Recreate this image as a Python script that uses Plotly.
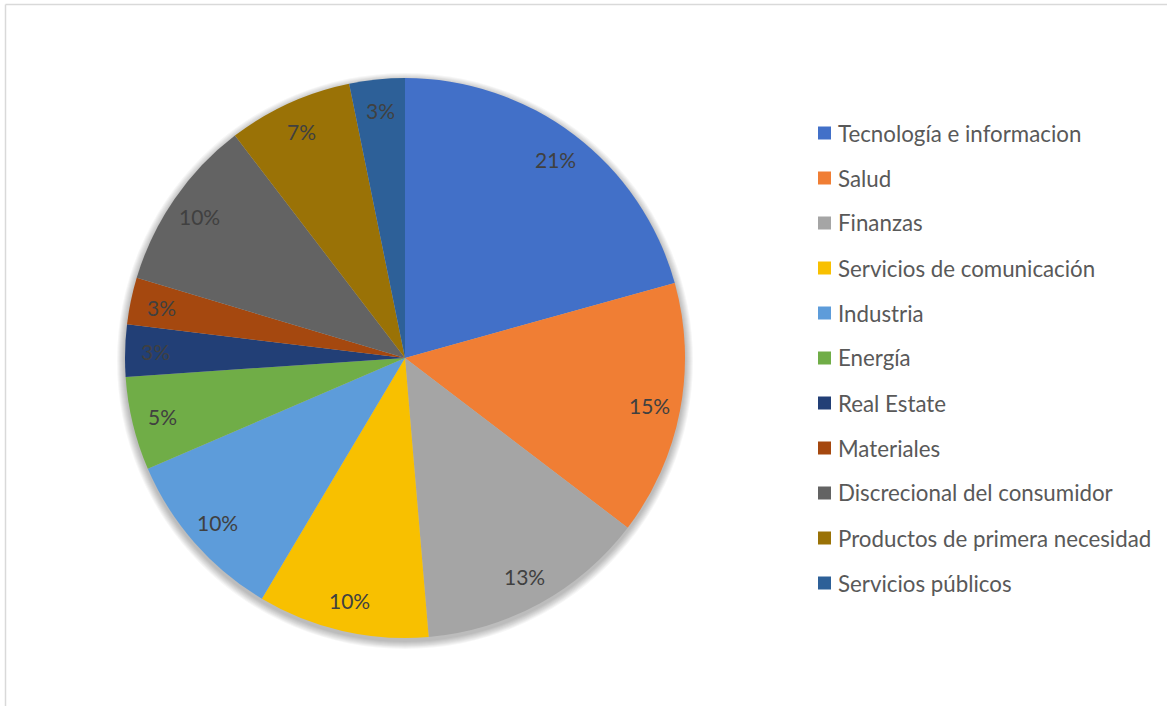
import math
import plotly.graph_objects as go

# Sector weights (%) and styling
sectors = [
    "Tecnología e informacion", "Salud", "Finanzas", "Servicios de comunicación",
    "Industria", "Energía", "Real Estate", "Materiales",
    "Discrecional del consumidor", "Productos de primera necesidad", "Servicios públicos",
]
weights = [20.7, 14.7, 13.3, 9.9, 10.0, 5.4, 3.0, 2.7, 10.0, 7.2, 3.2]
colors = [
    "#4270C8", "#F07E34", "#A5A5A5", "#F8C000", "#5D9CDA", "#70AD47",
    "#223F76", "#A5480F", "#636363", "#9A7206", "#2D6098",
]

W, H = 1167, 706
cx, cy, R = 405, 358, 280  # pie centre and radius in pixels
LABEL_R = 0.89 * R

dom_x = [(cx - R) / W, (cx + R) / W]
dom_y = [1 - (cy + R) / H, 1 - (cy - R) / H]

fig = go.Figure(go.Pie(
    labels=sectors, values=weights, sort=False, direction="clockwise", rotation=0,
    marker=dict(colors=colors, line=dict(width=0)),
    textinfo="none", showlegend=False, domain=dict(x=dom_x, y=dom_y),
))

shapes = []
# soft drop shadow behind the pie
for k in range(8):
    pad = 1 + k
    shapes.append(dict(
        type="circle", xref="paper", yref="paper", layer="below",
        x0=(cx - R - pad) / W, x1=(cx + R + pad) / W,
        y0=1 - (cy + 3 + R + pad) / H, y1=1 - (cy + 3 - R - pad) / H,
        fillcolor="rgba(0,0,0,0.035)", line=dict(width=0),
    ))
# chart area border (top and left edges visible)
shapes.append(dict(type="line", xref="paper", yref="paper", x0=5.5 / W, x1=1.0,
                   y0=1 - 4.5 / H, y1=1 - 4.5 / H, line=dict(color="#D9D9D9", width=1.5)))
shapes.append(dict(type="line", xref="paper", yref="paper", x0=5.5 / W, x1=5.5 / W,
                   y0=0, y1=1 - 4.5 / H, line=dict(color="#D9D9D9", width=1.5)))

annotations = []
total = sum(weights)
cum = 0.0
for name, w in zip(sectors, weights):
    mid = (cum + w / 2) / total * 2 * math.pi
    cum += w
    px = cx + LABEL_R * math.sin(mid)
    py = cy - LABEL_R * math.cos(mid)
    annotations.append(dict(
        x=px / W, y=1 - py / H, xref="paper", yref="paper", showarrow=False,
        text=f"{round(w / total * 100)}%", font=dict(family="Lato", size=21, color="#404040"),
        xanchor="center", yanchor="middle",
    ))

# legend drawn as swatches + labels
LEG_X, LEG_Y0, LEG_DY, SW = 818, 133, 45, 13
for i, (name, col) in enumerate(zip(sectors, colors)):
    yc = LEG_Y0 + i * LEG_DY
    shapes.append(dict(
        type="rect", xref="paper", yref="paper",
        x0=LEG_X / W, x1=(LEG_X + SW) / W,
        y0=1 - (yc + SW / 2) / H, y1=1 - (yc - SW / 2) / H,
        fillcolor=col, line=dict(width=0),
    ))
    annotations.append(dict(
        x=(LEG_X + SW + 5) / W, y=1 - yc / H, xref="paper", yref="paper",
        showarrow=False, text=name, xanchor="left", yanchor="middle",
        font=dict(family="Lato", size=22.3, color="#595959"),
    ))

fig.update_layout(
    width=W, height=H, margin=dict(l=0, r=0, t=0, b=0),
    paper_bgcolor="white", plot_bgcolor="white",
    shapes=shapes, annotations=annotations,
)
fig.write_html("out.html")
